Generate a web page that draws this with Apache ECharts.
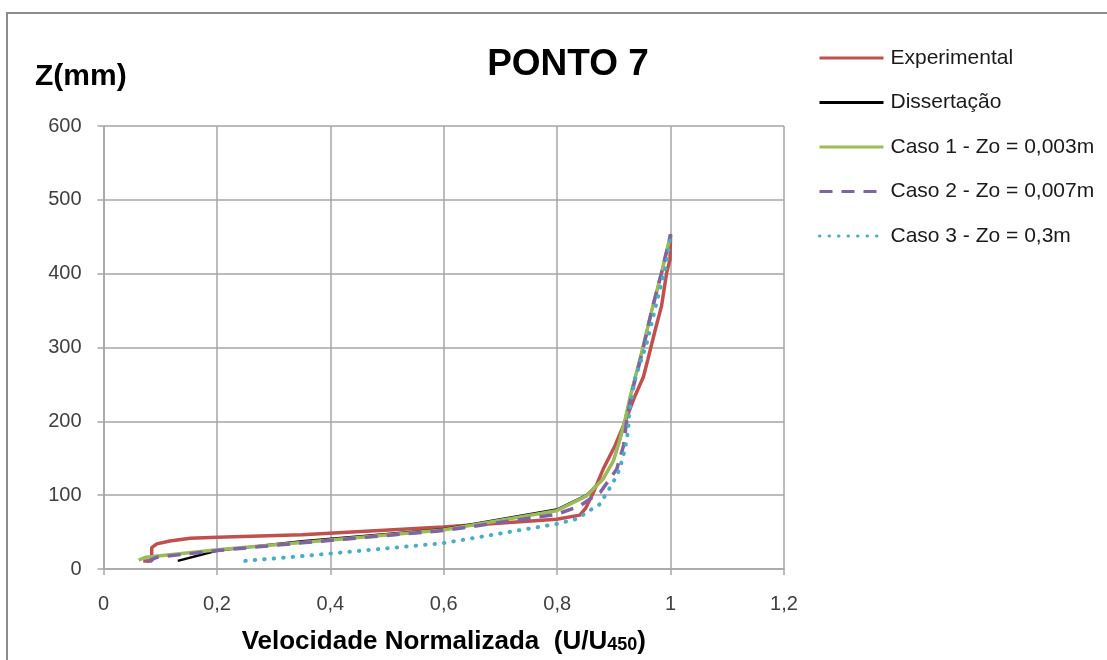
<!DOCTYPE html>
<html>
<head>
<meta charset="utf-8">
<script src="https://cdn.jsdelivr.net/npm/echarts@6/dist/echarts.min.js"></script>
<style>
html,body{margin:0;padding:0;background:#fff;}
#chart{width:1107px;height:660px;}
</style>
</head>
<body>
<div id="chart"></div>
<script>
// ---- Data (x = U/U450, z = mm) ----
const seriesNames = ['Experimental', 'Dissertação', 'Caso 1 - Zo = 0,003m', 'Caso 2 - Zo = 0,007m', 'Caso 3 - Zo = 0,3m'];

const experimental = [
  [0.070, 11], [0.085, 11], [0.085, 29], [0.094, 34], [0.117, 38], [0.153, 41.5], [0.201, 43],
  [0.35, 46.5], [0.599, 57], [0.799, 67.5], [0.840, 73], [0.850, 82], [0.864, 104], [0.881, 135],
  [0.902, 167], [0.920, 200], [0.937, 234], [0.952, 260], [0.960, 284], [0.973, 324],
  [0.984, 356], [0.993, 401], [0.999, 419], [1.0, 453]
];

const dissertacao = [
  [0.131, 11], [0.201, 25], [0.35, 37.5], [0.599, 54], [0.799, 80.5], [0.852, 100], [0.881, 122],
  [0.899, 146], [0.911, 176], [0.920, 203], [0.929, 234], [0.949, 293], [0.967, 351], [0.984, 401], [1.0, 453]
];

const caso1 = [
  [0.062, 12], [0.075, 16], [0.201, 26], [0.35, 36], [0.599, 52.7], [0.799, 79], [0.852, 99],
  [0.881, 122], [0.899, 146], [0.911, 176], [0.920, 203], [0.929, 234], [0.949, 293],
  [0.967, 351], [0.984, 401], [1.0, 453]
];

const caso2 = [
  [0.076, 10], [0.095, 16], [0.201, 25], [0.35, 35.5], [0.599, 52], [0.799, 74], [0.840, 85.5],
  [0.876, 104], [0.905, 135], [0.917, 167], [0.923, 203], [0.932, 240], [0.950, 293],
  [0.967, 351], [0.984, 401], [1.0, 453]
];

const caso3 = [
  [0.250, 11], [0.358, 18], [0.599, 35], [0.799, 61], [0.835, 68], [0.861, 81], [0.876, 88],
  [0.884, 99], [0.893, 110], [0.902, 122], [0.910, 135], [0.915, 149], [0.918, 158], [0.921, 169],
  [0.924, 182], [0.926, 196], [0.927, 212], [0.930, 225], [0.934, 243], [0.937, 257],
  [0.958, 306], [0.978, 369], [0.993, 414], [1.0, 453]
];

const xTicks = { min: 0, max: 1.2, interval: 0.2 };
const yTicks = { min: 0, max: 600, interval: 100 };

const colors = ['#C0504D', '#000000', '#9BBB59', '#8064A2', '#4BACC6'];

const chart = echarts.init(document.getElementById('chart'));
const axisGray = '#A6A6A6';
const fontFam = '"Liberation Sans", Arial, sans-serif';

function lineSeries(name, data, color, lineStyleExtra) {
  return {
    name: name, type: 'line', data: data, showSymbol: false, symbol: 'none',
    smooth: false, animation: false,
    lineStyle: Object.assign({ color: color, width: 3 }, lineStyleExtra || {}),
    itemStyle: { color: color }
  };
}

chart.setOption({
  animation: false,
  backgroundColor: '#fff',
  title: {
    text: 'PONTO 7', left: 563, top: 41, textAlign: 'center',
    textStyle: { fontFamily: fontFam, fontWeight: 'bold', fontSize: 37, color: '#000' }
  },
  graphic: [
    { type: 'rect', shape: { x: 7, y: 13, width: 1110, height: 700 }, style: { fill: 'none', stroke: '#8C8C8C', lineWidth: 2 }, silent: true, z: -10 },
    { type: 'text', left: 35, top: 62, style: { text: 'Z(mm)', font: 'bold 30px ' + fontFam, fill: '#000' } }
  ],
  legend: {
    orient: 'vertical', left: 813, top: 41,
    itemWidth: 64, itemHeight: 14, itemGap: 20.5,
    itemStyle: { opacity: 0 },
    lineStyle: { width: 3 },
    data: seriesNames,
    textStyle: { fontFamily: fontFam, fontSize: 21, color: '#1a1a1a', lineHeight: 24, padding: [0, 0, 0, 2] }
  },
  grid: { left: 103.5, top: 126, right: 323, bottom: 90, containLabel: false },
  xAxis: {
    type: 'value', min: xTicks.min, max: xTicks.max, interval: xTicks.interval,
    axisLine: { show: true, onZero: false, lineStyle: { color: axisGray, width: 1.5 } },
    axisTick: { show: true, inside: false, length: 6, lineStyle: { color: axisGray, width: 1.5 } },
    splitLine: { show: true, lineStyle: { color: axisGray, width: 1.5 } },
    axisLabel: {
      margin: 25, fontFamily: fontFam, fontSize: 20, color: '#404040',
      formatter: v => String(Math.round(v * 10) / 10).replace('.', ',')
    },
    name: '{a|Velocidade Normalizada  (U/U}{b|450}{a|)}',
    nameLocation: 'middle', nameGap: 60,
    nameTextStyle: {
      rich: {
        a: { fontFamily: fontFam, fontWeight: 'bold', fontSize: 26, color: '#000' },
        b: { fontFamily: fontFam, fontWeight: 'bold', fontSize: 18, color: '#000', padding: [7, 0, 0, 0] }
      }
    }
  },
  yAxis: {
    type: 'value', min: yTicks.min, max: yTicks.max, interval: yTicks.interval,
    axisLine: { show: true, onZero: false, lineStyle: { color: axisGray, width: 1.5 } },
    axisTick: { show: true, inside: false, length: 6, lineStyle: { color: axisGray, width: 1.5 } },
    splitLine: { show: true, lineStyle: { color: axisGray, width: 1.5 } },
    axisLabel: { margin: 22, fontFamily: fontFam, fontSize: 20, color: '#404040' }
  },
  series: [
    lineSeries(seriesNames[0], experimental, colors[0], { width: 3.5 }),
    lineSeries(seriesNames[1], dissertacao, colors[1], { width: 2.5 }),
    lineSeries(seriesNames[2], caso1, colors[2], { width: 3.5 }),
    lineSeries(seriesNames[3], caso2, colors[3], { width: 3.5, type: [13, 9] }),
    lineSeries(seriesNames[4], caso3, colors[4], { width: 4, type: [0.5, 9], cap: 'round' })
  ]
});
</script>
</body>
</html>
